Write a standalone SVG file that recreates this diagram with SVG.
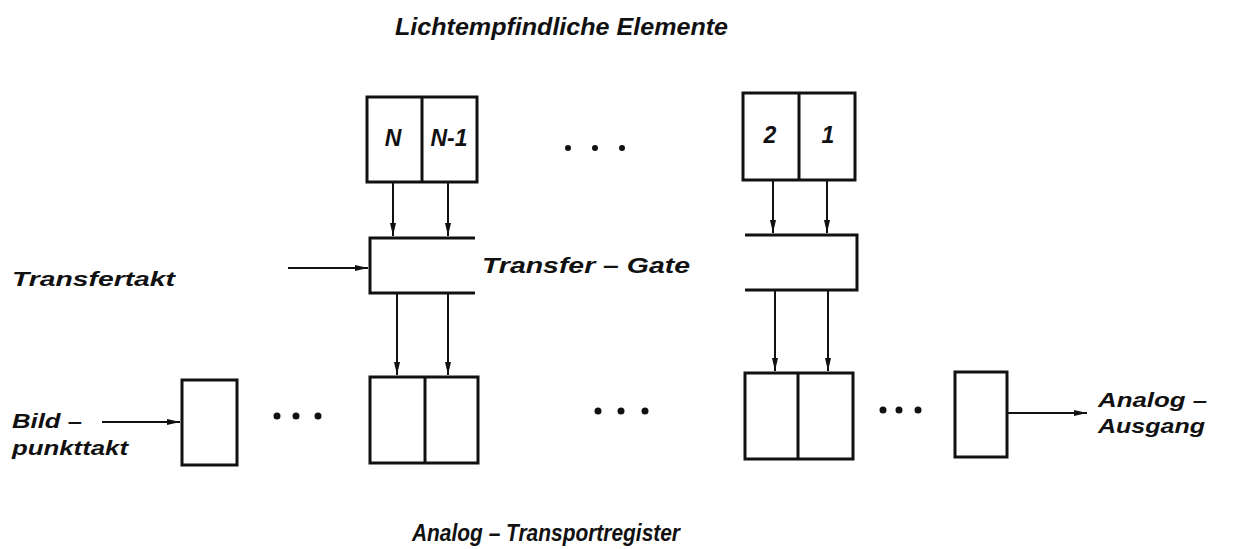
<svg xmlns="http://www.w3.org/2000/svg" width="1242" height="549" viewBox="0 0 1242 549">
<defs>
<style>
.box{fill:#fff;stroke:#111;stroke-width:3}
.ln{fill:none;stroke:#111;stroke-width:3}
.con{fill:none;stroke:#111;stroke-width:2}
.t{font-family:"Liberation Sans",Arial,sans-serif;font-style:italic;font-weight:bold;fill:#111}
.dot{fill:#111}
</style>
<marker id="ah" markerUnits="userSpaceOnUse" markerWidth="14" markerHeight="8" refX="13" refY="4" orient="auto">
<path d="M0,1 L13,4 L0,7 Z" fill="#111"/>
</marker>
</defs>
<rect width="1242" height="549" fill="#fff"/>

<text class="t" x="395" y="35" font-size="23" textLength="333" lengthAdjust="spacingAndGlyphs">Lichtempfindliche  Elemente</text>
<text class="t" x="412" y="541" font-size="24" textLength="268" lengthAdjust="spacingAndGlyphs">Analog – Transportregister</text>

<g id="sensor-left">
<rect class="box" x="367" y="97" width="110" height="85"/>
<line class="ln" x1="422" y1="97" x2="422" y2="182"/>
<text class="t" x="393" y="146" font-size="23" text-anchor="middle">N</text>
<text class="t" x="449" y="146" font-size="23" text-anchor="middle">N-1</text>
</g>
<g id="sensor-right">
<rect class="box" x="743" y="93" width="112" height="87"/>
<line class="ln" x1="799" y1="93" x2="799" y2="180"/>
<text class="t" x="770" y="143" font-size="23" text-anchor="middle">2</text>
<text class="t" x="828" y="143" font-size="23" text-anchor="middle">1</text>
</g>

<g id="dots">
<circle class="dot" cx="568" cy="148" r="3"/>
<circle class="dot" cx="595" cy="148" r="3"/>
<circle class="dot" cx="622" cy="148" r="3"/>
<circle class="dot" cx="277" cy="416" r="3.5"/>
<circle class="dot" cx="296" cy="416" r="3.5"/>
<circle class="dot" cx="318" cy="416" r="3.5"/>
<circle class="dot" cx="598" cy="411" r="3.5"/>
<circle class="dot" cx="621" cy="411" r="3.5"/>
<circle class="dot" cx="645" cy="411" r="3.5"/>
<circle class="dot" cx="883" cy="410" r="3.5"/>
<circle class="dot" cx="899" cy="410" r="3.5"/>
<circle class="dot" cx="918" cy="410" r="3.5"/>
</g>

<g id="gate-left">
<path class="ln" d="M475,238 H370 V293 H475"/>
</g>
<g id="gate-right">
<path class="ln" d="M745,235 H857 V290 H745"/>
</g>
<text class="t" x="482" y="273" font-size="22" textLength="208" lengthAdjust="spacingAndGlyphs">Transfer – Gate</text>

<text class="t" x="12" y="286" font-size="21" textLength="163" lengthAdjust="spacingAndGlyphs">Transfertakt</text>

<g id="reg-in">
<rect class="box" x="182" y="380" width="55" height="85"/>
</g>
<g id="reg-left">
<rect class="box" x="370" y="377" width="108" height="86"/>
<line class="ln" x1="425" y1="377" x2="425" y2="463"/>
</g>
<g id="reg-right">
<rect class="box" x="745" y="373" width="108" height="86"/>
<line class="ln" x1="798" y1="373" x2="798" y2="459"/>
</g>
<g id="reg-out">
<rect class="box" x="955" y="372" width="52" height="85"/>
</g>

<text class="t" x="12" y="428" font-size="20" textLength="70" lengthAdjust="spacingAndGlyphs">Bild –</text>
<text class="t" x="12" y="455" font-size="20" textLength="116" lengthAdjust="spacingAndGlyphs">punkttakt</text>
<text class="t" x="1098" y="407" font-size="20" textLength="109" lengthAdjust="spacingAndGlyphs">Analog –</text>
<text class="t" x="1098" y="433" font-size="20" textLength="107" lengthAdjust="spacingAndGlyphs">Ausgang</text>

<g id="connectors">
<line class="con" x1="393" y1="183" x2="393" y2="236" marker-end="url(#ah)"/>
<line class="con" x1="448" y1="183" x2="448" y2="236" marker-end="url(#ah)"/>
<line class="con" x1="773" y1="181" x2="773" y2="233" marker-end="url(#ah)"/>
<line class="con" x1="827" y1="181" x2="827" y2="233" marker-end="url(#ah)"/>
<line class="con" x1="288" y1="268" x2="368" y2="268" marker-end="url(#ah)"/>
<line class="con" x1="397" y1="294" x2="397" y2="375" marker-end="url(#ah)"/>
<line class="con" x1="448" y1="294" x2="448" y2="375" marker-end="url(#ah)"/>
<line class="con" x1="775" y1="291" x2="775" y2="371" marker-end="url(#ah)"/>
<line class="con" x1="828" y1="291" x2="828" y2="371" marker-end="url(#ah)"/>
<line class="con" x1="102" y1="422" x2="180" y2="422" marker-end="url(#ah)"/>
<line class="con" x1="1008" y1="413" x2="1087" y2="413" marker-end="url(#ah)"/>
</g>
</svg>
